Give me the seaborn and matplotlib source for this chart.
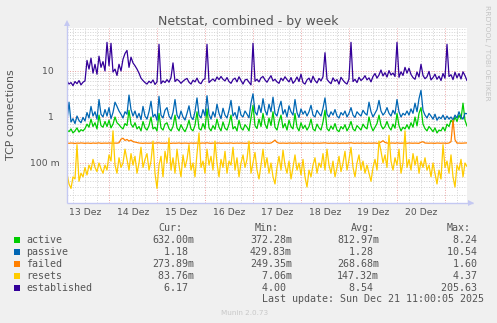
import matplotlib
matplotlib.use("Agg")
import matplotlib.pyplot as plt
from matplotlib.patches import Rectangle
from matplotlib.ticker import LogLocator, NullFormatter
import pandas as pd
import seaborn as sns

W, H, DPI = 497, 323, 100

# hourly samples, hours since 13 Dec 00:00
hours = list(range(3, 204))

series_names = ["active", "passive", "failed", "resets", "established"]
series_colors = ["#00CC00", "#0066B3", "#FF8000", "#FFCC00", "#330099"]

active = [
    0.52, 0.48, 0.55, 0.45, 0.50, 0.58, 0.47, 0.53, 0.50, 0.56,
    0.70, 0.60, 0.90, 0.62, 0.75, 0.55, 1.10, 0.65, 0.60, 0.80,
    0.62, 0.85, 0.58, 0.70, 1.00, 0.75, 0.68, 0.60, 0.55, 0.72,
    0.65, 1.40, 0.70, 0.60, 0.75, 0.55, 0.62, 0.50, 0.80, 0.58,
    0.52, 0.65, 1.00, 0.55, 0.60, 0.50, 1.20, 0.58, 0.52, 0.70,
    0.75, 0.56, 0.50, 0.62, 1.10, 0.58, 0.50, 0.68, 0.55, 0.48,
    0.60, 0.85, 0.55, 0.50, 0.66, 1.30, 0.56, 0.52, 0.72, 0.55,
    1.50, 0.58, 0.50, 0.65, 0.54, 0.90, 0.60, 0.50, 0.78, 0.57,
    0.52, 0.70, 1.10, 0.55, 0.62, 0.50, 0.85, 0.58, 0.52, 0.68,
    0.60, 0.50, 0.95, 1.80, 0.65, 0.56, 0.90, 0.62, 1.20, 0.70,
    0.56, 0.95, 0.65, 1.30, 0.60, 0.52, 0.80, 1.10, 0.58, 0.72,
    0.52, 0.85, 0.62, 0.55, 1.20, 0.60, 0.50, 0.75, 0.56, 0.66,
    0.52, 0.62, 0.90, 0.55, 0.50, 0.70, 0.58, 0.52, 0.78, 1.40,
    0.56, 0.50, 0.64, 0.54, 0.72, 0.52, 0.48, 0.62, 0.55, 0.68,
    0.50, 0.60, 0.80, 0.55, 0.50, 0.65, 0.58, 0.52, 0.70, 0.60,
    0.55, 1.00, 0.64, 0.50, 0.60, 0.72, 1.10, 0.66, 0.55, 0.62,
    0.80, 0.60, 0.52, 0.70, 0.57, 1.20, 0.65, 0.50, 0.60, 0.55,
    0.68, 0.55, 0.75, 0.60, 1.00, 0.64, 1.20, 1.60, 0.70, 0.56,
    0.50, 0.62, 0.55, 0.48, 0.58, 0.45, 0.52, 0.50, 0.60, 0.50,
    0.70, 0.62, 0.85, 0.75, 1.00, 0.80, 1.10, 0.90, 2.00, 0.85, 0.632,
]

passive = [
    0.80, 2.10, 0.78, 0.92, 0.72, 1.05, 0.84, 0.75, 0.98, 0.82,
    1.25, 0.95, 1.70, 1.05, 1.30, 0.90, 2.40, 1.15, 1.00, 1.45,
    1.05, 1.60, 0.92, 1.25, 2.10, 1.70, 1.35, 1.15, 0.95, 1.30,
    1.15, 3.00, 1.45, 1.05, 1.35, 0.95, 1.20, 0.88, 1.70, 1.05,
    0.90, 1.30, 2.20, 1.00, 1.15, 0.85, 2.80, 1.10, 0.95, 1.40,
    1.60, 1.05, 0.90, 1.25, 2.40, 1.10, 0.92, 1.35, 1.00, 0.86,
    1.20, 1.75, 1.00, 0.88, 1.30, 2.60, 1.10, 0.95, 1.45, 1.05,
    2.90, 1.15, 0.90, 1.30, 1.00, 1.90, 1.20, 0.92, 1.55, 1.10,
    0.95, 1.40, 2.30, 1.05, 1.25, 0.90, 1.70, 1.10, 1.00, 1.35,
    1.15, 0.96, 2.00, 3.20, 1.30, 1.10, 1.80, 1.25, 2.50, 1.40,
    1.10, 1.90, 1.30, 2.70, 1.20, 1.05, 1.60, 2.20, 1.15, 1.45,
    1.00, 1.75, 1.30, 1.10, 2.40, 1.25, 0.98, 1.50, 1.15, 1.35,
    1.05, 1.30, 1.80, 1.10, 1.00, 1.40, 1.20, 1.05, 1.55, 2.60,
    1.15, 1.00, 1.30, 1.10, 1.45, 1.05, 0.95, 1.25, 1.10, 1.35,
    1.00, 1.20, 1.60, 1.10, 0.98, 1.30, 1.15, 1.05, 1.40, 1.20,
    1.10, 2.10, 1.30, 1.00, 1.20, 1.45, 2.30, 1.35, 1.10, 1.25,
    1.60, 1.20, 1.05, 1.40, 1.15, 2.40, 1.30, 1.00, 1.20, 1.10,
    1.35, 1.10, 1.50, 1.20, 2.00, 1.30, 2.50, 3.80, 1.40, 1.10,
    0.95, 1.20, 1.05, 0.90, 1.15, 0.85, 1.00, 0.92, 1.10, 0.88,
    1.05, 0.90, 1.00, 0.86, 1.10, 0.95, 1.30, 1.00, 0.90, 1.20, 1.18,
]

failed = [
    0.270, 0.268, 0.272, 0.270, 0.266, 0.271, 0.269, 0.273, 0.270, 0.268,
    0.271, 0.270, 0.267, 0.272, 0.269, 0.270, 0.274, 0.268, 0.270, 0.271,
    0.269, 0.272, 0.270, 0.268, 0.271, 0.270, 0.275, 0.330, 0.345, 0.310,
    0.325, 0.300, 0.315, 0.292, 0.285, 0.278, 0.272, 0.270, 0.268, 0.271,
    0.270, 0.269, 0.272, 0.268, 0.270, 0.271, 0.274, 0.269, 0.270, 0.268,
    0.272, 0.270, 0.267, 0.271, 0.269, 0.270, 0.273, 0.268, 0.270, 0.271,
    0.270, 0.268, 0.272, 0.269, 0.270, 0.271, 0.267, 0.270, 0.272, 0.269,
    0.275, 0.270, 0.268, 0.271, 0.269, 0.270, 0.272, 0.268, 0.270, 0.271,
    0.269, 0.270, 0.273, 0.268, 0.270, 0.271, 0.269, 0.272, 0.270, 0.268,
    0.270, 0.271, 0.269, 0.274, 0.270, 0.268, 0.272, 0.270, 0.269, 0.271,
    0.270, 0.268, 0.272, 0.290, 0.315, 0.280, 0.270, 0.269, 0.271, 0.270,
    0.268, 0.272, 0.270, 0.269, 0.271, 0.270, 0.273, 0.268, 0.270, 0.271,
    0.269, 0.270, 0.272, 0.268, 0.270, 0.271, 0.269, 0.270, 0.272, 0.274,
    0.270, 0.268, 0.271, 0.269, 0.270, 0.272, 0.268, 0.270, 0.271, 0.269,
    0.270, 0.272, 0.275, 0.270, 0.268, 0.271, 0.269, 0.270, 0.272, 0.268,
    0.270, 0.271, 0.269, 0.270, 0.272, 0.268, 0.270, 0.285, 0.305, 0.280,
    0.271, 0.269, 0.270, 0.272, 0.268, 0.274, 0.270, 0.269, 0.271, 0.270,
    0.268, 0.272, 0.270, 0.269, 0.271, 0.270, 0.268, 0.283, 0.290, 0.272,
    0.270, 0.269, 0.271, 0.270, 0.268, 0.272, 0.270, 0.269, 0.271, 0.270,
    0.268, 0.272, 0.290, 0.860, 0.320, 0.270, 0.271, 0.269, 0.270, 0.272, 0.2739,
]

resets = [
    0.060, 0.035, 0.028, 0.050, 0.045, 0.250, 0.040, 0.060, 0.050, 0.080,
    0.055, 0.090, 0.070, 0.120, 0.080, 0.065, 0.100, 0.075, 0.060, 0.090,
    0.070, 0.150, 0.110, 0.500, 0.090, 0.060, 0.130, 0.080, 0.100, 0.200,
    0.120, 0.070, 0.160, 0.090, 0.140, 0.060, 0.100, 0.220, 0.080, 0.120,
    0.160, 0.070, 0.110, 0.300, 0.060, 0.028, 0.090, 0.140, 0.050, 0.180,
    0.100, 0.350, 0.070, 0.130, 0.060, 0.200, 0.090, 0.050, 0.150, 0.080,
    0.120, 0.250, 0.070, 0.100, 0.050, 0.160, 0.450, 0.080, 0.110, 0.060,
    0.200, 0.090, 0.140, 0.070, 0.300, 0.100, 0.050, 0.120, 0.080, 0.180,
    0.060, 0.110, 0.090, 0.220, 0.070, 0.130, 0.050, 0.100, 0.150, 0.080,
    0.120, 0.300, 0.060, 0.100, 0.170, 0.070, 0.045, 0.090, 0.200, 0.080,
    0.130, 0.060, 0.100, 0.050, 0.035, 0.080, 0.140, 0.070, 0.190, 0.090,
    0.060, 0.110, 0.045, 0.080, 0.150, 0.070, 0.100, 0.055, 0.120, 0.050,
    0.030, 0.070, 0.050, 0.090, 0.130, 0.060, 0.100, 0.080, 0.160, 0.070,
    0.200, 0.090, 0.060, 0.110, 0.050, 0.080, 0.140, 0.065, 0.100, 0.180,
    0.070, 0.120, 0.220, 0.080, 0.050, 0.100, 0.150, 0.070, 0.110, 0.060,
    0.090, 0.060, 0.040, 0.080, 0.120, 0.070, 0.300, 0.180, 0.100, 0.150,
    0.080, 0.400, 0.110, 0.070, 0.130, 0.090, 0.200, 0.060, 0.100, 0.500,
    0.080, 0.120, 0.070, 0.160, 0.090, 0.140, 0.060, 0.110, 0.080, 0.130,
    0.070, 0.090, 0.050, 0.100, 0.060, 0.035, 0.070, 0.045, 0.250, 0.080,
    0.110, 0.060, 0.150, 0.050, 0.030, 0.090, 0.070, 0.120, 0.050, 0.100, 0.0838,
]

established = [
    6.0, 5.2, 5.6, 4.8, 5.9, 5.3, 6.2, 5.0, 5.7, 6.1,
    17, 11, 19, 9.0, 14, 8.5, 21, 12, 16, 10,
    42, 13, 40, 9.5, 11, 8.0, 14, 10, 18, 24,
    28, 12, 20, 15, 13, 11, 9.0, 7.0, 6.2, 5.6,
    5.2, 6.0, 5.5, 6.4, 5.1, 5.8, 38, 5.3, 6.1, 5.6,
    6.5, 5.7, 7.2, 15, 5.9, 6.6, 6.1, 5.4, 6.0, 6.5,
    6.9, 5.7, 5.2, 6.3, 5.8, 7.0, 5.6, 5.3, 6.4, 6.8,
    38, 5.6, 6.2, 6.7, 6.0, 7.4, 6.5, 7.6, 6.6, 6.1,
    7.2, 5.9, 5.4, 6.5, 7.0, 5.8, 7.5, 6.2, 5.2, 6.4,
    6.6, 5.7, 5.0, 40, 6.0, 6.6, 5.8, 7.1, 7.6, 6.4,
    5.7, 6.8, 7.9, 6.1, 6.6, 5.8, 5.4, 7.0, 6.2, 7.5,
    6.5, 5.8, 7.2, 5.4, 6.1, 7.4, 5.9, 8.5, 5.6, 5.2,
    6.4, 7.0, 5.6, 7.7, 6.2, 5.5, 6.9, 6.1, 7.5, 25,
    6.6, 5.8, 5.3, 7.1, 6.0, 6.5, 5.2, 7.3, 6.3, 5.6,
    5.2, 6.7, 42, 5.9, 6.6, 5.6, 7.3, 6.2, 6.8, 7.9,
    6.4, 7.1, 5.8, 7.6, 8.8, 7.0, 8.2, 10.5, 7.8, 9.2,
    7.4, 10.2, 8.2, 9.0, 7.6, 42, 7.3, 9.6, 8.0, 12,
    9.0, 11.5, 8.4, 7.2, 6.6, 9.5, 7.4, 14, 8.0, 6.8,
    7.5, 9.8, 6.4, 7.2, 8.5, 6.6, 7.7, 6.2, 8.8, 7.0,
    38, 7.6, 8.3, 6.5, 9.4, 7.1, 8.8, 6.7, 9.6, 7.9, 6.17,
]

day_labels = ["13 Dez", "14 Dez", "15 Dez", "16 Dez",
              "17 Dez", "18 Dez", "19 Dez", "20 Dez"]
y_ticks = [0.1, 1, 10]
y_tick_labels = ["100 m", "1\u2007", "10\u2007"]

cur_text = ["632.00m", "  1.18 ", "273.89m", " 83.76m", "  6.17 "]
min_text = ["372.28m", "429.83m", "249.35m", "  7.06m", "  4.00 "]
avg_text = ["812.97m", "  1.28 ", "268.68m", "147.32m", "  8.54 "]
max_text = ["  8.24 ", " 10.54 ", "  1.60 ", "  4.37 ", "205.63 "]

# ---------------------------------------------------------------- figure
sns.set_theme(style="white")
plt.rcParams["font.family"] = ["DejaVu Sans"]
TXT = "#555555"

fig = plt.figure(figsize=(W / DPI, H / DPI), dpi=DPI, facecolor="#F0F0F0")
ax = fig.add_axes([67 / W, 1 - 203 / H, 400 / W, 175 / H])
ax.set_facecolor("white")

values = {"active": active, "passive": passive, "failed": failed,
          "resets": resets, "established": established}
df = pd.concat(
    [pd.DataFrame({"t": hours, "value": values[n], "series": n}) for n in series_names],
    ignore_index=True,
)
sns.lineplot(data=df, x="t", y="value", hue="series", hue_order=series_names,
             palette=series_colors, estimator=None, legend=False,
             linewidth=0.9, ax=ax)

ax.set_yscale("log")
ax.set_xlim(3, 203)
ax.set_ylim(10 ** (-86 / 46), 10 ** (89 / 46))
ax.set_xlabel("")
ax.set_ylabel("")

# y axis: decades (red grid), 2..9 subdivisions (grey grid)
ax.set_yticks(y_ticks, y_tick_labels)
ax.yaxis.set_minor_locator(LogLocator(base=10, subs=range(2, 10), numticks=20))
ax.yaxis.set_minor_formatter(NullFormatter())

# x axis: midnights (red grid), 6-hour steps (grey grid), labels at noon
midnights = list(range(24, 203, 24))
six_hours = [h for h in range(6, 203, 6) if h % 24 != 0]
six_labels = []
for h in six_hours:
    six_labels.append(day_labels[h // 24] if h % 24 == 12 else "")
ax.set_xticks(midnights, [""] * len(midnights))
ax.set_xticks(six_hours, six_labels, minor=True)

ax.grid(which="major", color="#EBA3A3", linestyle=(0, (1, 1.6)), linewidth=0.7)
ax.grid(which="minor", color="#D2D2D2", linestyle=(0, (1, 1.6)), linewidth=0.7)
ax.set_axisbelow(True)

ax.tick_params(axis="y", which="both", length=0, pad=5, labelsize=6.7, labelcolor=TXT)
ax.tick_params(axis="x", which="both", length=1.6, width=0.6, color="#B0B0B0",
               pad=2.2, labelsize=6.7, labelcolor=TXT)

for s in ["top", "right", "left", "bottom"]:
    ax.spines[s].set_visible(False)

axis_col = "#C4C8F2"
ax.plot([0, 0], [0, 1.03], transform=ax.transAxes, color=axis_col, lw=1.0,
        clip_on=False, solid_capstyle="butt")
ax.plot([0, 1.015], [0, 0], transform=ax.transAxes, color=axis_col, lw=1.0,
        clip_on=False, solid_capstyle="butt")
ax.plot([0], [(203 - 23) / 175], marker="^", ms=5, color=axis_col,
        transform=ax.transAxes, clip_on=False, mew=0)
ax.plot([(471 - 67) / 400], [0], marker=">", ms=5, color=axis_col,
        transform=ax.transAxes, clip_on=False, mew=0)

# ---------------------------------------------------------------- texts
def fx(x):
    return x / W


def fy(y):
    return 1 - y / H


fig.text(fx(248), fy(25), "Netstat, combined - by week", ha="center",
         va="baseline", fontsize=9, color=TXT)
fig.text(fx(11), fy(115), "TCP connections", ha="center", va="center",
         rotation=90, fontsize=7.9, color=TXT)
fig.text(fx(487), fy(5), "RRDTOOL / TOBI OETIKER", ha="center", va="top",
         rotation=270, fontsize=5.4, color="#C4C4C4")

mono = dict(family="DejaVu Sans Mono", fontsize=7.2, color=TXT, va="baseline")
fig.text(fx(158), fy(231), "Cur:", ha="left", **mono)
fig.text(fx(255), fy(231), "Min:", ha="left", **mono)
fig.text(fx(351), fy(231), "Avg:", ha="left", **mono)
fig.text(fx(447), fy(231), "Max:", ha="left", **mono)

for i, name in enumerate(series_names):
    base = 243 + 12 * i
    fig.add_artist(Rectangle((fx(14), fy(base)), 6 / W, 6 / H,
                             transform=fig.transFigure,
                             facecolor=series_colors[i], edgecolor="none"))
    fig.text(fx(26), fy(base), name, ha="left", **mono)
    fig.text(fx(194), fy(base), cur_text[i], ha="right", **mono)
    fig.text(fx(292), fy(base), min_text[i], ha="right", **mono)
    fig.text(fx(379), fy(base), avg_text[i], ha="right", **mono)
    fig.text(fx(483), fy(base), max_text[i], ha="right", **mono)

fig.text(fx(262), fy(302), "Last update: Sun Dec 21 11:00:05 2025",
         ha="left", **mono)
fig.text(fx(245), fy(315), "Munin 2.0.73", ha="center", va="baseline",
         fontsize=5.2, color="#C8C8C8")

fig.savefig("out.png", dpi=DPI, facecolor=fig.get_facecolor())
